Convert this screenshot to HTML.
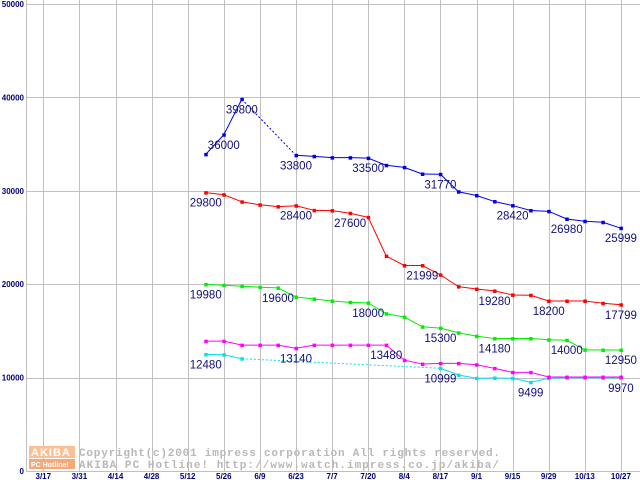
<!DOCTYPE html>
<html><head><meta charset="utf-8"><style>
html,body{margin:0;padding:0;background:#fff}
svg{display:block}
</style></head><body>
<svg id="chart" width="640" height="480" xmlns="http://www.w3.org/2000/svg" font-family="Liberation Sans, sans-serif"></svg>
<script>
const weekLabels=["3/17","3/31","4/14","4/28","5/12","5/26","6/9","6/23","7/7","7/20","8/4","8/17","9/1","9/15","9/29","10/13","10/27"];
const yTicks=[0,10000,20000,30000,40000,50000];
const startWeek=9; // first data point = 5/19
const blue=[33900,36000,39800,null,null,33800,33690,33550,33550,33500,32730,32510,31800,31770,29900,29500,28850,28420,27890,27800,26980,26740,26630,25999];
const red=[29800,29580,28820,28500,28310,28400,27910,27880,27600,27160,23010,22000,21999,21000,19740,19480,19280,18850,18820,18200,18200,18200,17960,17799];
const green=[19980,19890,19780,19680,19600,18630,18420,18200,18060,18000,16840,16490,15440,15300,14800,14440,14180,14180,14180,14050,14000,12970,12950,12950];
const magenta=[13900,13900,13480,13480,13480,13140,13480,13480,13480,13480,13480,11870,11450,11520,11520,11380,10990,10560,10560,10060,10060,10060,10060,10060];
const cyan=[12480,12450,12020,null,null,null,null,null,null,null,null,null,null,10999,10280,9930,9960,9930,9499,9930,9990,9970,9970,9970];
const blueLabels=[1,2,5,9,13,17,20,23];
const redLabels=[0,5,8,12,16,19,23];
const greenLabels=[0,4,9,13,16,20,23];
const magentaLabels=[5,10];
const cyanLabels=[0,13,18,23];

const NS="http://www.w3.org/2000/svg";
const svg=document.getElementById('chart');
function X(w){return 43.3+18.05*w;}
function Y(v){return 471-v*0.00934;}
function mk(tag,attrs,parent){const e=document.createElementNS(NS,tag);for(const k in attrs)e.setAttribute(k,attrs[k]);(parent||svg).appendChild(e);return e;}

const grid=mk('g',{});


for(let k=0;k<weekLabels.length;k++){
  const x=Math.round(X(2*k))+0.5;
  const l=mk('line',{x1:x,y1:0,x2:x,y2:471,stroke:'#c0c0c0','stroke-width':1},grid);
  
  
  const t=mk('text',{x:X(2*k),y:479,'font-size':8,'font-weight':'bold','text-anchor':'middle',fill:'#000080'},svg);
  
  
  t.textContent=weekLabels[k];
}
for(const v of yTicks){
  const y=Math.round(Y(v))+0.5;
  const l=mk('line',{x1:26,y1:y,x2:640,y2:y,stroke:'#c0c0c0','stroke-width':1},grid);
  
  
  const t=mk('text',{x:24,y:Y(v)+3,'font-size':8,'font-weight':'bold','text-anchor':'end',fill:'#000080'},svg);
  
  
  t.textContent=String(v);
}
const ax=mk('line',{x1:26.5,y1:0,x2:26.5,y2:471,stroke:'#c0c0c0'});



const wm=mk('g',{});


mk('rect',{x:29,y:446,width:46,height:12,fill:'#fbbf94'},wm);
mk('rect',{x:29,y:459,width:46,height:10,fill:'#f8a878'},wm);
const w1=mk('text',{x:31,y:456,'font-size':11,fill:'#fff','font-weight':'bold','letter-spacing':'1'},wm);w1.textContent='AKIBA';
const w2=mk('text',{x:31,y:467,'font-size':7,fill:'#fff','font-weight':'bold'},wm);w2.textContent='PC Hotline!';
const w3=mk('text',{x:79,y:456,'font-size':11,fill:'#b8b8b8','font-family':'Liberation Mono, monospace','font-weight':'bold',textLength:421,lengthAdjust:'spacing'},wm);w3.textContent='Copyright(c)2001 impress corporation All rights reserved.';
const w4=mk('text',{x:79,y:468,'font-size':11,fill:'#b8b8b8','font-family':'Liberation Mono, monospace','font-weight':'bold',textLength:420,lengthAdjust:'spacing'},wm);w4.textContent='AKIBA PC Hotline!  http://www.watch.impress.co.jp/akiba/';

function series(data,color,labels,name){
  const g=mk('g',{});
  
  
  let prev=-1;
  for(let i=0;i<data.length;i++){
    if(data[i]==null)continue;
    if(prev>=0){
      const dotted=(i-prev)>1;
      const l=mk('line',{x1:X(startWeek+prev),y1:Y(data[prev]),x2:X(startWeek+i),y2:Y(data[i]),stroke:color,'stroke-width':1},g);
      if(dotted)l.setAttribute('stroke-dasharray','2,2');
      
      
    }
    prev=i;
  }
  for(let i=0;i<data.length;i++){
    if(data[i]==null)continue;
    const r=mk('rect',{x:X(startWeek+i)-1.5,y:Y(data[i])-1.5,width:3.5,height:3.5,fill:color},g);
    
    
  }
  for(const i of labels){
    const t=mk('text',{x:X(startWeek+i),y:Y(data[i])+14,'font-size':11.5,'text-anchor':'middle',fill:'#10107a'},g);
    
    
    t.textContent=String(data[i]);
  }
}
series(cyan,'#00e0f0',cyanLabels,'cyan');
series(magenta,'#ff00ff',magentaLabels,'magenta');
series(green,'#00ee00',greenLabels,'green');
series(red,'#ff0000',redLabels,'red');
series(blue,'#0000ee',blueLabels,'blue');
</script>
</body></html>
